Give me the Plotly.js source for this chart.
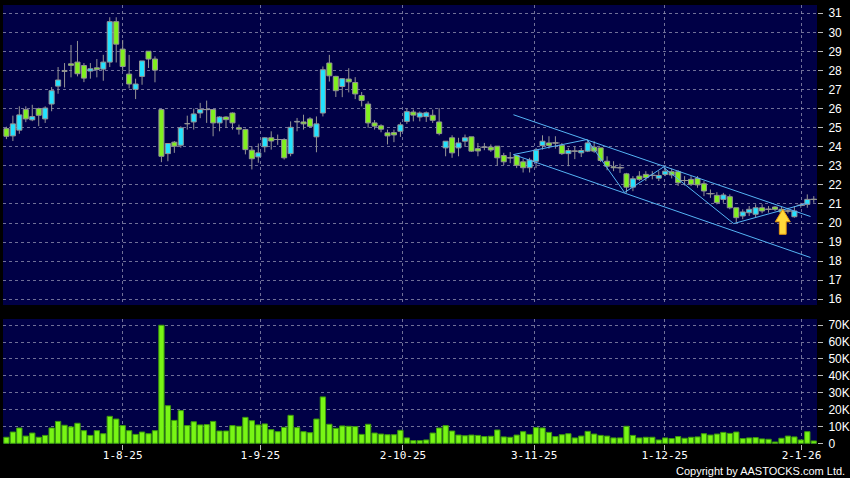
<!DOCTYPE html>
<html><head><meta charset="utf-8">
<script src="https://cdn.plot.ly/plotly-3.0.1.min.js"></script>
<style>html,body{margin:0;padding:0;background:#000;} #chart{width:850px;height:478px;}</style>
</head><body><div id="chart"></div>
<script>
// ---- data ----
const openP = [24.95,24.57,24.87,25.95,25.41,26.00,25.46,26.24,27.18,28.00,
28.35,28.44,28.26,27.97,28.14,28.07,28.44,30.56,29.12,27.81,
27.01,27.69,29.01,28.60,25.95,23.64,24.24,24.08,25.20,25.30,
25.77,25.95,25.95,25.25,25.56,25.77,25.00,24.90,23.82,23.47,
24.00,24.47,24.38,24.38,23.64,25.30,25.30,25.46,24.52,25.77,
28.39,27.69,27.16,27.55,27.37,26.69,26.24,25.25,25.10,24.73,
24.74,24.81,25.33,25.82,25.56,25.58,25.65,25.30,23.94,24.47,
23.94,24.29,24.52,23.90,23.98,23.98,24.03,23.54,23.42,23.54,
23.21,22.90,23.24,24.06,24.20,24.20,24.08,23.64,23.77,23.68,
23.77,23.98,23.94,23.24,22.95,22.90,22.58,21.88,22.46,22.55,
22.50,22.35,22.55,22.69,22.69,22.23,22.29,22.34,22.06,21.54,
21.45,21.24,21.38,20.80,20.37,20.54,20.46,20.80,20.72,20.84,
20.72,20.63,20.33,20.93,20.98,21.24];
const highP = [25.05,25.63,26.12,26.12,26.20,26.05,26.12,27.13,28.18,28.39,
29.34,29.55,28.39,28.39,28.60,28.82,30.79,30.79,29.60,28.82,
27.57,28.50,29.01,28.74,25.98,24.17,24.30,25.07,25.63,26.00,
26.30,26.42,25.98,25.60,25.60,25.80,25.16,24.95,24.03,24.17,
24.50,24.81,24.64,24.45,25.33,25.51,25.68,25.55,25.59,28.21,
28.82,27.72,27.60,28.12,27.65,26.87,26.38,25.40,25.18,24.90,
24.90,25.28,25.98,25.95,25.85,25.85,25.95,26.03,24.29,24.60,
24.47,24.64,24.52,24.20,24.20,24.12,24.03,23.68,23.72,23.54,
23.38,23.42,23.94,24.60,24.55,24.55,24.20,23.94,24.03,23.94,
24.38,24.29,23.94,23.50,23.24,23.11,22.63,22.46,22.72,22.72,
22.72,22.72,22.90,22.86,22.77,22.46,22.46,22.46,22.20,21.76,
21.62,21.58,21.50,20.80,20.72,20.89,20.98,20.98,20.89,20.89,
20.84,20.80,20.89,21.06,21.50,21.41];
const lowP = [24.40,24.30,24.68,25.29,25.34,25.08,25.25,25.86,26.78,27.11,
27.64,27.69,27.39,27.57,27.64,27.46,28.18,28.42,27.99,27.06,
26.50,27.25,28.13,27.38,23.19,23.24,23.68,23.95,24.90,24.90,
25.50,25.25,24.55,24.81,24.99,24.90,24.64,23.60,22.81,23.16,
23.71,23.85,24.10,23.33,23.50,24.81,24.90,24.99,23.71,25.59,
27.42,26.61,26.60,26.85,26.50,26.12,24.99,24.90,24.76,24.12,
24.24,24.52,25.20,25.33,25.33,25.30,25.25,24.60,23.50,23.42,
23.50,23.99,23.73,23.50,23.82,23.73,23.02,23.04,23.14,22.88,
22.65,22.65,22.88,23.85,23.90,23.90,23.57,22.98,23.35,23.46,
23.72,23.68,23.20,22.77,22.72,22.63,21.59,21.67,22.20,22.20,
22.29,22.20,22.46,22.34,21.94,21.97,21.94,21.85,21.41,21.32,
20.98,21.06,20.72,20.02,20.20,20.37,20.28,20.51,20.54,20.63,
20.51,20.50,20.28,20.80,20.80,21.06];
const closeP = [24.55,25.20,25.67,25.46,25.58,25.65,26.03,26.94,27.50,27.95,
28.27,27.83,27.60,28.09,28.05,28.44,30.56,29.38,28.21,27.29,
27.29,28.50,28.60,28.02,23.50,24.17,24.03,24.99,25.22,25.72,
25.95,25.95,25.25,25.56,25.42,25.25,24.92,23.85,23.37,23.68,
24.47,24.30,24.38,23.42,25.02,25.33,25.20,25.07,25.20,28.04,
27.72,26.94,27.57,27.40,26.77,26.43,25.25,25.08,24.92,24.57,
24.62,25.15,25.84,25.66,25.77,25.78,25.39,24.69,24.29,23.68,
24.20,24.47,23.77,23.78,23.98,23.83,23.42,23.21,23.42,23.03,
22.90,23.30,23.82,24.29,24.07,24.20,23.64,23.80,23.77,23.80,
24.20,23.77,23.28,22.98,22.90,22.90,21.88,22.32,22.29,22.38,
22.50,22.49,22.72,22.52,22.11,22.23,22.03,22.00,21.68,21.54,
21.07,21.47,20.80,20.28,20.58,20.72,20.80,20.63,20.72,20.72,
20.58,20.63,20.63,20.93,21.24,21.24];
const volumeK = [3.6,6.7,9.1,4.3,6.1,3.6,4.7,9.1,13.0,10.7,
9.7,11.9,7.5,4.7,7.5,5.7,16.0,14.4,10.5,7.5,
5.3,6.7,5.7,7.5,70.0,22.3,13.6,19.4,10.5,12.8,
10.9,11.1,13.0,7.3,7.3,10.5,10.1,15.4,13.4,10.9,
11.5,8.1,6.9,9.5,16.6,9.3,6.9,6.3,14.4,27.5,
11.3,8.9,10.3,10.1,9.9,5.3,11.3,6.1,5.5,5.1,
5.1,7.7,3.2,1.6,1.6,2.0,6.1,9.1,10.5,7.3,
4.9,4.5,4.9,4.7,4.0,4.2,7.9,3.8,3.6,4.9,
6.9,5.3,9.3,9.1,6.5,4.0,5.1,5.7,3.2,4.3,
7.1,5.5,4.7,4.3,3.2,3.2,10.1,4.7,3.2,3.6,
3.6,2.0,3.2,2.8,4.0,3.0,3.6,3.8,5.7,4.9,
5.5,6.5,5.9,6.7,2.8,3.2,3.4,2.6,2.4,0.8,
3.0,4.3,3.8,2.0,6.9,1.4];
const tickLabels = ['1-8-25','1-9-25','2-10-25','3-11-25','1-12-25','2-1-26'];
const tickIndex = [18, 39.3, 61.4, 81.7, 101.9, 123.1];
const priceTicks = [16,17,18,19,20,21,22,23,24,25,26,27,28,29,30,31];
const volTicks = [0,10000,20000,30000,40000,50000,60000,70000];
const volTickText = ['0','10K','20K','30K','40K','50K','60K','70K'];
// trend lines drawn on the chart: [candle index, price]
const channelUpper = [[78.5,25.68],[124.5,20.34]];
const channelLower = [[78.5,23.59],[124.5,18.19]];
const zigzag = [[78.5,23.59],[89.9,24.38],[95.7,21.60],[101.7,22.93],[112.6,19.97],[124.1,21.05]];
const arrowTip = [120.2, 20.72];

// ---- build ----
const idx = openP.map((_, i) => i);
const volume = volumeK.map(v => v * 1000);
const bodyTop = openP.map((o, i) => Math.max(o, closeP[i]));
const bodyBase = openP.map((o, i) => Math.min(o, closeP[i]));
const bodyHeight = openP.map((o, i) => Math.abs(closeP[i] - o));
const bodyColor = openP.map((o, i) => closeP[i] >= o ? '#22e2ff' : '#80f01e');
const dojiIdx = idx.filter(i => Math.abs(closeP[i] - openP[i]) < 0.005);

// wick segments: high -> body top, body bottom -> low
const wickX = [], wickY = [];
idx.forEach(i => {
  wickX.push(i, i, null, i, i, null);
  wickY.push(highP[i], bodyTop[i], null, bodyBase[i], lowP[i], null);
});

const lineCol = '#55b4f5';
const gridCol = 'rgba(150,150,180,0.75)';
const edgeCol = '#959595';
const mono = 'DejaVu Sans Mono, monospace';
const sans = 'Liberation Sans, Arial, sans-serif';

function lineTrace(pts){
  return {type:'scatter', mode:'lines', x: pts.map(p=>p[0]), y: pts.map(p=>p[1]),
    xaxis:'x', yaxis:'y', line:{color:lineCol, width:1}, hoverinfo:'skip', showlegend:false};
}

const traces = [
  {type:'bar', x: idx, y: bodyHeight, base: bodyBase, xaxis:'x', yaxis:'y', width:0.78,
   marker:{color: bodyColor, line:{color:edgeCol, width:1}}, showlegend:false, hoverinfo:'skip'},
  {type:'scatter', mode:'lines', x: wickX, y: wickY, xaxis:'x', yaxis:'y', connectgaps:false,
   line:{color:edgeCol, width:1}, showlegend:false, hoverinfo:'skip'},
  {type:'scatter', mode:'markers', x: dojiIdx, y: dojiIdx.map(i => closeP[i]), xaxis:'x', yaxis:'y',
   marker:{symbol:'line-ew', size:6, line:{color:edgeCol, width:1}}, showlegend:false, hoverinfo:'skip'},
  lineTrace(channelUpper), lineTrace(channelLower), lineTrace(zigzag),
  {type:'bar', x: idx, y: volume, xaxis:'x2', yaxis:'y2', width:0.82,
   marker:{color:'#78f515', line:{color:'#3c9a0c', width:1}}, showlegend:false}
];

const layout = {
  width:850, height:478,
  paper_bgcolor:'#000000', plot_bgcolor:'#000046',
  margin:{l:3, r:33, t:5, b:34},
  showlegend:false,
  barmode:'overlay',
  xaxis:{domain:[0,1], anchor:'y', range:[-0.53,125.5],
    tickmode:'array', tickvals: tickIndex, showticklabels:false, ticks:'',
    showgrid:true, gridcolor:gridCol, griddash:'3px,3px', gridwidth:1, zeroline:false, showline:false},
  yaxis:{domain:[0.3166,1], anchor:'x', side:'right', range:[15.70,31.434],
    tickmode:'array', tickvals: priceTicks, ticks:'outside', ticklen:5, tickcolor:'#bbbbbb', tickwidth:1,
    ticklabelstandoff:3,
    tickfont:{family:sans, size:12, color:'#ffffff'},
    showgrid:true, gridcolor:gridCol, griddash:'3px,3px', gridwidth:1, zeroline:false, showline:false},
  xaxis2:{domain:[0,1], anchor:'y2', range:[-0.53,125.5], matches:'x',
    tickmode:'array', tickvals: tickIndex, ticktext: tickLabels, ticks:'outside', ticklen:5,
    ticklabelstandoff:-4,
    tickcolor:'#bbbbbb', tickfont:{family:mono, size:11, color:'#ffffff'},
    showgrid:true, gridcolor:gridCol, griddash:'3px,3px', gridwidth:1, zeroline:false, showline:false},
  yaxis2:{domain:[0,0.2847], anchor:'x2', side:'right', range:[-400,73700],
    tickmode:'array', tickvals: volTicks, ticktext: volTickText, ticks:'outside', ticklen:5,
    ticklabelstandoff:3,
    tickcolor:'#bbbbbb', tickfont:{family:sans, size:12, color:'#ffffff'},
    showgrid:true, gridcolor:gridCol, griddash:'3px,3px', gridwidth:1, zeroline:false, showline:false},
  shapes:[{type:'path', xref:'x', yref:'y', xsizemode:'pixel', ysizemode:'pixel',
    xanchor: arrowTip[0], yanchor: arrowTip[1],
    path:'M 0 0 L 7.5 -12.5 L 3.4 -12.5 L 3.4 -25 L -3.4 -25 L -3.4 -12.5 L -7.5 -12.5 Z',
    fillcolor:'#ffd83a', line:{color:'#e89a10', width:1}}],
  annotations:[{xref:'paper', yref:'paper', x:1.037, y:0, yshift:-35, xanchor:'right', yanchor:'bottom',
    text:'Copyright by AASTOCKS.com Ltd.', showarrow:false,
    font:{family:sans, size:11, color:'#ffffff'}}]
};

Plotly.newPlot('chart', traces, layout, {displayModeBar:false, staticPlot:true});
</script>
</body></html>
